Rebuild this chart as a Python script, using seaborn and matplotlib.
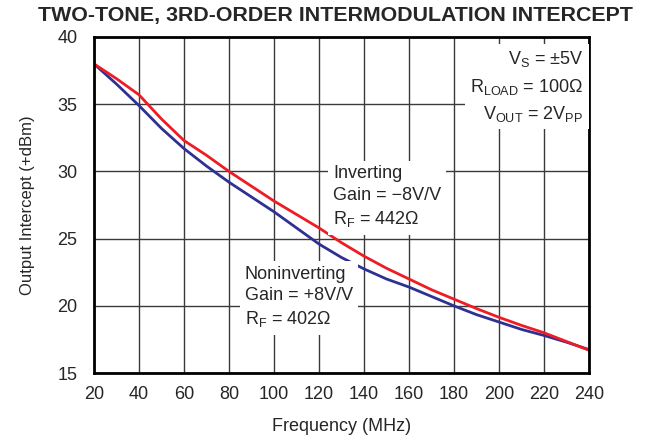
import numpy as np
import pandas as pd
import seaborn as sns
import matplotlib.pyplot as plt

# data
freq_mhz = [20, 30, 40, 50, 60, 70, 80, 90, 100, 110, 120, 130,
            140, 150, 160, 170, 180, 190, 200, 210, 220, 230, 240]
inverting = [38.0, 36.9, 35.7, 33.9, 32.3, 31.2, 30.0, 28.9, 27.8, 26.8, 25.8, 24.7,
             23.7, 22.8, 22.0, 21.2, 20.5, 19.8, 19.15, 18.55, 18.0, 17.35, 16.7]
noninverting = [38.0, 36.5, 34.9, 33.2, 31.7, 30.4, 29.2, 28.1, 27.0, 25.8, 24.6, 23.6,
                22.75, 22.0, 21.4, 20.7, 20.0, 19.35, 18.8, 18.25, 17.8, 17.3, 16.75]
x_ticks = list(range(20, 241, 20))
y_ticks = [15, 20, 25, 30, 35, 40]

colors = {'RED': '#EE1C24', 'BLUE': '#2E3192', 'GRID': '#3A3A3A'}

sns.set_style('white')
plt.rcParams['font.family'] = ['Liberation Sans', 'DejaVu Sans']
plt.rcParams['mathtext.default'] = 'regular'

df = pd.DataFrame({'freq': freq_mhz, 'Inverting': inverting, 'Noninverting': noninverting})

fig = plt.figure(figsize=(6.48, 4.4), dpi=100)
ax = fig.add_axes([0.145, 0.152, 0.764, 0.764])

ax.set_xlim(20, 240)
ax.set_ylim(15, 40)
ax.set_xticks(x_ticks)
ax.set_yticks(y_ticks)
ax.grid(True, color=colors['GRID'], linewidth=1.0)
ax.set_axisbelow(True)

sns.lineplot(data=df, x='freq', y='Noninverting', color=colors['BLUE'], linewidth=2, ax=ax)
sns.lineplot(data=df, x='freq', y='Inverting', color=colors['RED'], linewidth=2, ax=ax)

for spine in ax.spines.values():
    spine.set_visible(True)
    spine.set_color('black')
    spine.set_linewidth(2)

ax.tick_params(axis='both', length=0, labelsize=13)
ax.tick_params(axis='x', pad=9)
ax.tick_params(axis='y', pad=12)
ax.set_xlabel('Frequency (MHz)', fontsize=13, labelpad=11)
ax.set_ylabel('Output Intercept (+dBm)', fontsize=12, labelpad=16)
fig.text(0.517, 0.965, 'TWO-TONE, 3RD-ORDER INTERMODULATION INTERCEPT',
         ha='center', va='center', fontsize=15.4, fontweight='bold')

box = dict(boxstyle='square,pad=0.3', fc='white', ec='none')
ax.text(237.5, 39.1, 'V$_S$ = ±5V\nR$_{LOAD}$ = 100Ω\nV$_{OUT}$ = 2V$_{PP}$',
        ha='right', va='top', fontsize=13, linespacing=1.5, bbox=box, zorder=5)
ax.text(126.2, 30.45, 'Inverting\nGain = −8V/V\nR$_F$ = 442Ω',
        ha='left', va='top', fontsize=13, linespacing=1.35, bbox=box, zorder=5)
ax.text(87.1, 23.0, 'Noninverting\nGain = +8V/V\nR$_F$ = 402Ω',
        ha='left', va='top', fontsize=13, linespacing=1.35, bbox=box, zorder=5)

fig.savefig('out.png', dpi=100)
